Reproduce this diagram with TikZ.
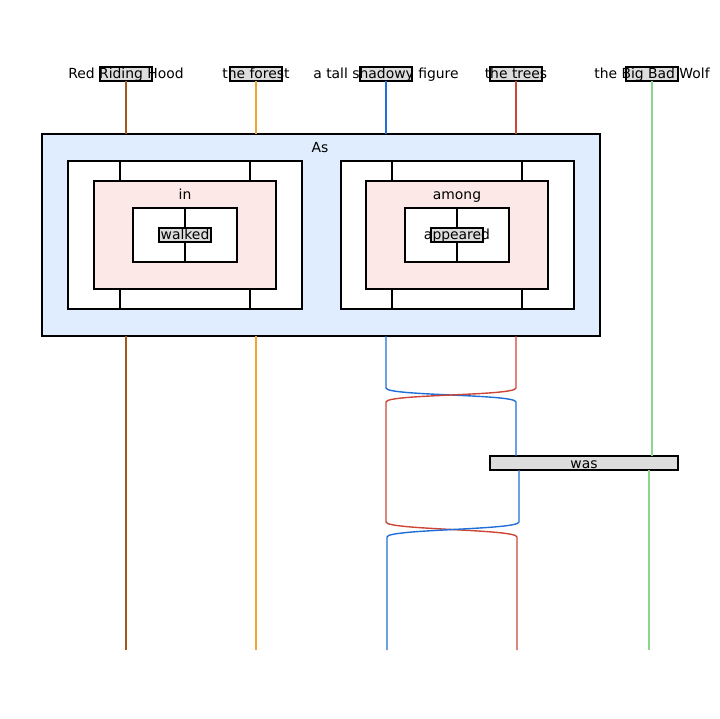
\documentclass[tikz,border=0pt]{standalone}
\usepackage{fontspec}
\setmainfont{DejaVu Sans}
\definecolor{wbrown}{HTML}{A5561C}
\definecolor{worange}{HTML}{F5A234}
\definecolor{wblue}{HTML}{1F6FD8}
\definecolor{wred}{HTML}{CD4535}
\definecolor{wgreen}{HTML}{86D98C}
\definecolor{outerblue}{HTML}{E0EDFE}
\definecolor{pinkfill}{HTML}{FCE8E6}
\definecolor{boxgray}{HTML}{DDDDDD}
\begin{document}
\begin{tikzpicture}[x=1pt,y=-1pt,
  every node/.style={font=\fontsize{13.9}{16}\selectfont, inner sep=0pt, outer sep=0pt},
  lbox/.style={draw=black, line width=1.1pt, fill=boxgray, minimum width=52pt, minimum height=14pt},
  frame/.style={draw=black, line width=1.1pt, rectangle},
  txt/.style={text=black, anchor=base},
  wire/.style={line width=1.4pt},
  bw/.style={line width=1.1pt, black}]
\useasboundingbox (0,0) rectangle (720,719);

% outer box
\node[frame, fill=outerblue, minimum width=558pt, minimum height=202pt] (As) at (321,235) {};
\node[txt] (Aslab) at (320,153) {As};
% left / right structures
\node[frame, fill=white, minimum width=234pt, minimum height=148pt] (Lw) at (185,235) {};
\node[frame, fill=white, minimum width=233pt, minimum height=148pt] (Rw) at (457.5,235) {};
\draw[bw] (120,161) -- (120,181) (250,161) -- (250,181) (120,289) -- (120,309) (250,289) -- (250,309);
\draw[bw] (392,161) -- (392,181) (522,161) -- (522,181) (392,289) -- (392,309) (522,289) -- (522,309);
\node[frame, fill=pinkfill, minimum width=182pt, minimum height=108pt] (Lp) at (185,235) {};
\node[frame, fill=pinkfill, minimum width=182pt, minimum height=108pt] (Rp) at (457,235) {};
\node[txt] (inlab) at (185,200) {in};
\node[txt] (amonglab) at (457,200) {among};
\node[frame, fill=white, minimum width=104pt, minimum height=54pt] (Li) at (185,235) {};
\node[frame, fill=white, minimum width=104pt, minimum height=54pt] (Ri) at (457,235) {};
\draw[bw] (Li.north) -- (Li.south);
\draw[bw] (Ri.north) -- (Ri.south);
\node[lbox] (walked) at (185,235) {};
\node[txt] (walkedt) at (185,240) {walked};
\node[lbox] (appeared) at (457,235) {};
\node[txt] (appearedt) at (457,240) {appeared};

% top labels
\node[lbox] (rrh) at (126,74) {};
\node[lbox] (forest) at (256,74) {};
\node[lbox] (fig) at (386,74) {};
\node[lbox] (trees) at (516,74) {};
\node[lbox] (wolf) at (652,74) {};
\node[txt] (rrht) at (126,79) {Red Riding Hood};
\node[txt] (forestt) at (256,79) {the forest};
\node[txt] (figt) at (386,79) {a tall shadowy figure};
\node[txt] (treest) at (516,79) {the trees};
\node[txt] (wolft) at (652,79) {the Big Bad Wolf};

% was box
\node[draw=black, line width=1.1pt, fill=boxgray, minimum width=188pt, minimum height=14pt] (was) at (584,463) {};
\node[txt] (wast) at (584,468) {was};

% coordinates
\coordinate (bEnd) at (126,650);
\coordinate (oEnd) at (256,650);
\coordinate (s1bl) at (386,388);
\coordinate (s1br) at (516,388);
\coordinate (s1l) at (386,402);
\coordinate (s1r) at (516,402);
\coordinate (s2tl) at (386,522);
\coordinate (s2tr) at (519,522);
\coordinate (s2l) at (387,537);
\coordinate (s2r) at (517,537);
\coordinate (blEnd) at (387,650);
\coordinate (rdEnd) at (517,650);
\coordinate (gTop) at (649,470);
\coordinate (gEnd) at (649,650);

% wires above the outer box
\draw[wire, wbrown] (rrh.south) -- (rrh.south |- As.north);
\draw[wire, worange] (forest.south) -- (forest.south |- As.north);
\draw[wire, wblue] (fig.south) -- (fig.south |- As.north);
\draw[wire, wred] (trees.south) -- (trees.south |- As.north);
\draw[wire, wgreen] (wolf.south) -- (wolf.south |- was.north);

% wires below the outer box
\draw[wire, wbrown] (rrh.south |- As.south) -- (bEnd);
\draw[wire, worange] (forest.south |- As.south) -- (oEnd);
\draw[wire, wblue] (fig.south |- As.south) -- (s1bl) .. controls (386,396) and (516,394) .. (s1r) -- (s1r |- was.north);
\draw[wire, wred] (trees.south |- As.south) -- (s1br) .. controls (516,396) and (386,394) .. (s1l) -- (s2tl) .. controls (386,530) and (517,529) .. (s2r) -- (rdEnd);
\draw[wire, wblue] (s2tr |- was.south) -- (s2tr) .. controls (519,530) and (387,529) .. (s2l) -- (blEnd);
\draw[wire, wgreen] (gTop) -- (gEnd);
\end{tikzpicture}
\end{document}
